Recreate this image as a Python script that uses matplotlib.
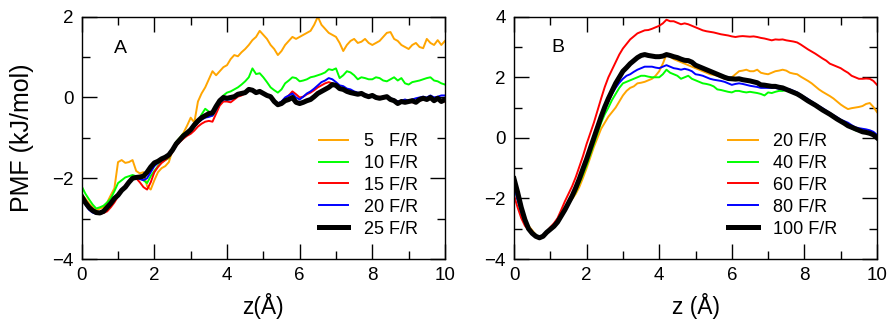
import numpy as np
import matplotlib
matplotlib.use('Agg')
import matplotlib.pyplot as plt
from matplotlib.ticker import MultipleLocator

plt.rcParams['font.family'] = ['Liberation Sans', 'DejaVu Sans']

# z grid (Angstrom), 0.1 step, 101 points
z = np.round(np.arange(0, 10.01, 0.1), 1)

# Panel A: PMF (kJ/mol) for 5..25 F/R
pmf_a_5 = [-2.4, -2.5, -2.62, -2.72, -2.8, -2.75, -2.72, -2.6, -2.42, -2.25,
           -1.6, -1.55, -1.62, -1.6, -1.55, -1.82, -1.88, -1.85, -2.2, -2.28,
           -2.05, -1.85, -1.75, -1.7, -1.6, -1.3, -1.1, -1.0, -0.88, -0.7,
           -0.5, -0.62, -0.1, 0.1, 0.25, 0.45, 0.65, 0.55, 0.65, 0.75,
           0.8, 0.95, 1.05, 1.02, 1.12, 1.2, 1.3, 1.42, 1.5, 1.65,
           1.55, 1.45, 1.3, 1.2, 1.05, 1.15, 1.3, 1.4, 1.5, 1.45,
           1.5, 1.55, 1.6, 1.65, 1.8, 2.0, 1.8, 1.7, 1.6, 1.55,
           1.5, 1.35, 1.15, 1.3, 1.4, 1.45, 1.35, 1.38, 1.45, 1.35,
           1.3, 1.35, 1.4, 1.5, 1.6, 1.62, 1.45, 1.4, 1.3, 1.25,
           1.2, 1.3, 1.35, 1.25, 1.22, 1.45, 1.35, 1.3, 1.42, 1.3, 1.4]
pmf_a_10 = [-2.2, -2.38, -2.52, -2.65, -2.75, -2.72, -2.68, -2.6, -2.5, -2.32,
            -2.12, -2.05, -1.98, -1.95, -1.92, -1.95, -2.0, -2.05, -2.12, -1.95,
            -1.82, -1.7, -1.6, -1.55, -1.5, -1.3, -1.1, -1.0, -0.9, -0.85,
            -0.78, -0.7, -0.6, -0.42, -0.28, -0.35, -0.45, -0.3, -0.1, 0.05,
            0.12, 0.15, 0.2, 0.25, 0.32, 0.4, 0.5, 0.72, 0.58, 0.6,
            0.5, 0.38, 0.25, 0.18, 0.12, 0.2, 0.35, 0.42, 0.5, 0.48,
            0.4, 0.42, 0.45, 0.5, 0.52, 0.55, 0.58, 0.62, 0.7, 0.68,
            0.72, 0.48, 0.55, 0.65, 0.62, 0.55, 0.45, 0.5, 0.48, 0.45,
            0.45, 0.5, 0.48, 0.42, 0.4, 0.45, 0.5, 0.42, 0.48, 0.35,
            0.32, 0.38, 0.4, 0.42, 0.45, 0.48, 0.5, 0.42, 0.4, 0.35, 0.32]
pmf_a_15 = [-2.45, -2.62, -2.75, -2.82, -2.85, -2.88, -2.86, -2.82, -2.72, -2.6,
            -2.45, -2.32, -2.2, -2.1, -2.02, -2.0, -2.1, -2.22, -2.28, -2.1,
            -1.85, -1.72, -1.62, -1.55, -1.48, -1.35, -1.2, -1.1, -1.02, -0.95,
            -0.9, -0.82, -0.72, -0.65, -0.6, -0.58, -0.6, -0.4, -0.2, -0.1,
            -0.1, -0.12, -0.05, 0.02, 0.05, 0.1, 0.22, 0.2, 0.15, 0.12,
            0.1, 0.05, 0.0, -0.08, -0.15, -0.12, -0.02, 0.05, 0.15, 0.08,
            0.0, 0.02, 0.08, 0.12, 0.18, 0.25, 0.3, 0.35, 0.38, 0.35,
            0.3, 0.25, 0.2, 0.18, 0.15, 0.12, 0.1, 0.08, 0.05, 0.05,
            0.02, 0.0, 0.02, -0.02, 0.0, -0.05, -0.08, -0.1, -0.12, -0.1,
            -0.1, -0.12, -0.1, -0.08, -0.05, -0.02, 0.0, -0.05, -0.02, -0.1, -0.1]
pmf_a_20 = [-2.45, -2.65, -2.78, -2.85, -2.88, -2.86, -2.82, -2.75, -2.65, -2.52,
            -2.42, -2.3, -2.2, -2.1, -2.0, -1.98, -2.02, -2.05, -2.0, -1.85,
            -1.7, -1.62, -1.55, -1.5, -1.42, -1.3, -1.15, -1.02, -0.92, -0.85,
            -0.82, -0.72, -0.62, -0.55, -0.5, -0.48, -0.45, -0.3, -0.12, -0.05,
            -0.05, -0.05, 0.0, 0.05, 0.08, 0.12, 0.22, 0.2, 0.15, 0.12,
            0.1, 0.05, 0.0, -0.1, -0.15, -0.1, 0.0, 0.05, 0.1, 0.0,
            -0.05, 0.02, 0.1, 0.15, 0.22, 0.3, 0.38, 0.42, 0.48, 0.45,
            0.38, 0.3, 0.28, 0.22, 0.2, 0.15, 0.12, 0.1, 0.08, 0.05,
            0.05, 0.02, 0.0, 0.02, 0.0, -0.02, -0.05, -0.1, -0.08, -0.05,
            -0.08, -0.05, -0.02, 0.0, 0.02, 0.0, 0.05, 0.0, 0.02, 0.05, 0.05]
pmf_a_25 = [-2.45, -2.6, -2.72, -2.8, -2.85, -2.86, -2.82, -2.72, -2.62, -2.5,
            -2.42, -2.3, -2.22, -2.1, -2.0, -1.98, -1.97, -1.95, -1.85, -1.72,
            -1.62, -1.58, -1.52, -1.48, -1.42, -1.3, -1.15, -1.05, -0.95, -0.88,
            -0.8, -0.68, -0.58, -0.5, -0.45, -0.4, -0.38, -0.22, -0.08, 0.0,
            -0.02, 0.0, 0.02, 0.08, 0.1, 0.12, 0.2, 0.18, 0.12, 0.15,
            0.1, 0.05, 0.02, -0.1, -0.18, -0.15, -0.08, -0.05, 0.0, -0.12,
            -0.15, -0.12, -0.08, -0.05, 0.02, 0.1, 0.15, 0.2, 0.25, 0.32,
            0.3, 0.22, 0.2, 0.15, 0.12, 0.1, 0.08, 0.1, 0.05, 0.02,
            0.05, 0.0, -0.02, 0.0, 0.02, -0.05, -0.08, -0.15, -0.1, -0.12,
            -0.1, -0.08, -0.12, -0.05, -0.02, -0.05, 0.0, -0.08, -0.02, -0.1, -0.05]

# Panel B: PMF (kJ/mol) for 20..100 F/R
pmf_b_20 = [-1.5, -1.95, -2.4, -2.7, -2.9, -3.05, -3.2, -3.3, -3.22, -3.12,
            -3.0, -2.88, -2.72, -2.52, -2.32, -2.18, -2.02, -1.85, -1.62, -1.32,
            -1.0, -0.65, -0.3, 0.0, 0.3, 0.5, 0.7, 0.85, 1.0, 1.2,
            1.4, 1.55, 1.65, 1.7, 1.8, 1.82, 1.85, 1.9, 1.95, 2.05,
            2.2, 2.45, 2.75, 2.68, 2.6, 2.55, 2.5, 2.45, 2.4, 2.35,
            2.3, 2.25, 2.2, 2.15, 2.1, 2.08, 2.05, 2.0, 1.95, 1.95,
            2.0, 2.1, 2.2, 2.22, 2.25, 2.2, 2.2, 2.25, 2.15, 2.12,
            2.1, 2.15, 2.2, 2.22, 2.25, 2.22, 2.15, 2.12, 2.1, 2.02,
            1.95, 1.88, 1.8, 1.7, 1.6, 1.52, 1.45, 1.38, 1.3, 1.2,
            1.1, 1.02, 0.95, 0.98, 1.0, 1.02, 1.05, 1.12, 1.15, 1.02, 0.85]
pmf_b_40 = [-1.6, -2.05, -2.5, -2.8, -3.0, -3.12, -3.2, -3.3, -3.22, -3.1,
            -3.0, -2.9, -2.72, -2.5, -2.3, -2.15, -2.0, -1.78, -1.5, -1.2,
            -0.9, -0.55, -0.2, 0.15, 0.5, 0.78, 1.0, 1.25, 1.45, 1.65,
            1.8, 1.85, 1.9, 1.95, 2.0, 2.05, 2.05, 2.02, 2.0, 2.0,
            2.0, 2.1, 2.25, 2.15, 2.1, 2.05, 1.95, 2.0, 2.05, 1.95,
            1.9, 1.85, 1.8, 1.78, 1.75, 1.7, 1.6, 1.58, 1.55, 1.52,
            1.5, 1.55, 1.55, 1.52, 1.5, 1.52, 1.5, 1.48, 1.45, 1.4,
            1.5, 1.48, 1.52, 1.55, 1.55, 1.58, 1.55, 1.52, 1.45, 1.38,
            1.3, 1.22, 1.15, 1.08, 1.0, 0.92, 0.85, 0.78, 0.7, 0.62,
            0.55, 0.48, 0.4, 0.32, 0.25, 0.22, 0.2, 0.18, 0.15, 0.1, 0.05]
pmf_b_60 = [-1.9, -2.3, -2.65, -2.9, -3.05, -3.18, -3.25, -3.3, -3.2, -3.1,
            -2.95, -2.82, -2.65, -2.38, -2.1, -1.85, -1.6, -1.3, -0.95, -0.6,
            -0.2, 0.15, 0.5, 0.9, 1.3, 1.68, 2.0, 2.25, 2.5, 2.75,
            2.95, 3.1, 3.25, 3.35, 3.45, 3.5, 3.55, 3.56, 3.6, 3.65,
            3.7, 3.78, 3.9, 3.85, 3.85, 3.8, 3.75, 3.78, 3.75, 3.7,
            3.65, 3.6, 3.55, 3.52, 3.5, 3.48, 3.45, 3.42, 3.4, 3.38,
            3.35, 3.33, 3.35, 3.36, 3.35, 3.34, 3.35, 3.33, 3.3, 3.28,
            3.25, 3.22, 3.25, 3.24, 3.25, 3.22, 3.2, 3.18, 3.15, 3.08,
            3.0, 2.92, 2.85, 2.78, 2.7, 2.62, 2.55, 2.45, 2.4, 2.35,
            2.3, 2.22, 2.15, 2.05, 2.0, 1.95, 1.95, 1.96, 1.95, 1.88, 1.75]
pmf_b_80 = [-1.6, -2.05, -2.45, -2.78, -3.0, -3.15, -3.25, -3.3, -3.22, -3.1,
            -3.0, -2.9, -2.75, -2.55, -2.35, -2.12, -1.9, -1.65, -1.35, -1.02,
            -0.7, -0.35, 0.0, 0.3, 0.6, 0.92, 1.2, 1.45, 1.65, 1.82,
            1.95, 2.05, 2.1, 2.18, 2.25, 2.3, 2.35, 2.35, 2.35, 2.32,
            2.3, 2.35, 2.4, 2.35, 2.3, 2.28, 2.25, 2.28, 2.25, 2.2,
            2.1, 2.08, 2.05, 2.0, 1.95, 1.92, 1.9, 1.88, 1.85, 1.8,
            1.75, 1.78, 1.8, 1.78, 1.75, 1.72, 1.7, 1.68, 1.65, 1.65,
            1.65, 1.65, 1.65, 1.62, 1.6, 1.6, 1.6, 1.55, 1.5, 1.42,
            1.35, 1.28, 1.2, 1.12, 1.05, 0.98, 0.9, 0.82, 0.75, 0.68,
            0.6, 0.55, 0.5, 0.42, 0.35, 0.32, 0.3, 0.28, 0.25, 0.2, 0.1]
pmf_b_100 = [-1.35, -1.8, -2.3, -2.7, -3.0, -3.15, -3.25, -3.3, -3.25, -3.12,
             -3.02, -2.92, -2.78, -2.58, -2.38, -2.15, -1.92, -1.65, -1.35, -1.02,
             -0.7, -0.35, 0.0, 0.35, 0.7, 1.02, 1.3, 1.55, 1.8, 2.0,
             2.2, 2.32, 2.45, 2.55, 2.65, 2.72, 2.75, 2.72, 2.7, 2.68,
             2.68, 2.7, 2.75, 2.72, 2.68, 2.65, 2.6, 2.56, 2.55, 2.5,
             2.4, 2.35, 2.3, 2.25, 2.2, 2.15, 2.1, 2.05, 2.0, 1.96,
             1.95, 1.94, 1.95, 1.92, 1.9, 1.88, 1.85, 1.82, 1.75, 1.74,
             1.72, 1.7, 1.7, 1.67, 1.65, 1.6, 1.55, 1.5, 1.45, 1.38,
             1.3, 1.22, 1.15, 1.08, 1.0, 0.92, 0.85, 0.78, 0.7, 0.62,
             0.55, 0.48, 0.4, 0.35, 0.3, 0.25, 0.2, 0.18, 0.15, 0.1, 0.0]

labels_a = ['5   F/R', '10 F/R', '15 F/R', '20 F/R', '25 F/R']
labels_b = ['20 F/R', '40 F/R', '60 F/R', '80 F/R', '100 F/R']
colors = ['#FFA500', '#00FF00', '#FF0000', '#0000FF', '#000000']
widths = [1.4, 1.4, 1.4, 1.4, 3.6]

fig = plt.figure(figsize=(8.91, 3.2), dpi=100)
ax_a = fig.add_axes([0.0917, 0.1906, 0.4077, 0.7572])
ax_b = fig.add_axes([0.5769, 0.1906, 0.4074, 0.7572])


def style(ax, ylim):
    ax.set_xlim(0, 10)
    ax.set_ylim(*ylim)
    ax.xaxis.set_major_locator(MultipleLocator(2))
    ax.xaxis.set_minor_locator(MultipleLocator(1))
    ax.yaxis.set_major_locator(MultipleLocator(2))
    ax.yaxis.set_minor_locator(MultipleLocator(1))
    ax.tick_params(which='both', direction='in', top=True, right=True,
                   labelsize=13.5, width=1.0)
    ax.tick_params(which='major', length=11, pad=6)
    ax.tick_params(which='minor', length=5.5)
    for s in ax.spines.values():
        s.set_linewidth(1.0)


for ys, lab, c, w in zip([pmf_a_5, pmf_a_10, pmf_a_15, pmf_a_20, pmf_a_25],
                         labels_a, colors, widths):
    ax_a.plot(z, ys, color=c, lw=w, label=lab)
style(ax_a, (-4, 2))
ax_a.text(1.07, 1.22, 'A', fontsize=14, ha='center', va='center')
ax_a.set_ylabel('PMF (kJ/mol)', fontsize=18, va='center')
ax_a.yaxis.set_label_coords(-0.163, 0.5)
ax_a.set_xlabel('z(\u00c5)', fontsize=16.5)
ax_a.xaxis.set_label_coords(0.5, -0.195)
ax_a.xaxis.label.set_va('center')
ax_a.legend(loc='upper left', bbox_to_anchor=(0.653, 0.52), frameon=False,
            fontsize=13, handlelength=1.6, handletextpad=0.9,
            labelspacing=0.27, borderpad=0, borderaxespad=0)

for ys, lab, c, w in zip([pmf_b_20, pmf_b_40, pmf_b_60, pmf_b_80, pmf_b_100],
                         labels_b, colors, widths):
    ax_b.plot(z, ys, color=c, lw=w, label=lab)
style(ax_b, (-4, 4))
ax_b.text(1.22, 2.97, 'B', fontsize=14, ha='center', va='center')
ax_b.set_xlabel('z (\u00c5)', fontsize=16.5)
ax_b.xaxis.set_label_coords(0.5, -0.195)
ax_b.xaxis.label.set_va('center')
ax_b.legend(loc='upper left', bbox_to_anchor=(0.590, 0.52), frameon=False,
            fontsize=13, handlelength=1.65, handletextpad=0.85,
            labelspacing=0.27, borderpad=0, borderaxespad=0)

fig.savefig('out.png', dpi=100)
